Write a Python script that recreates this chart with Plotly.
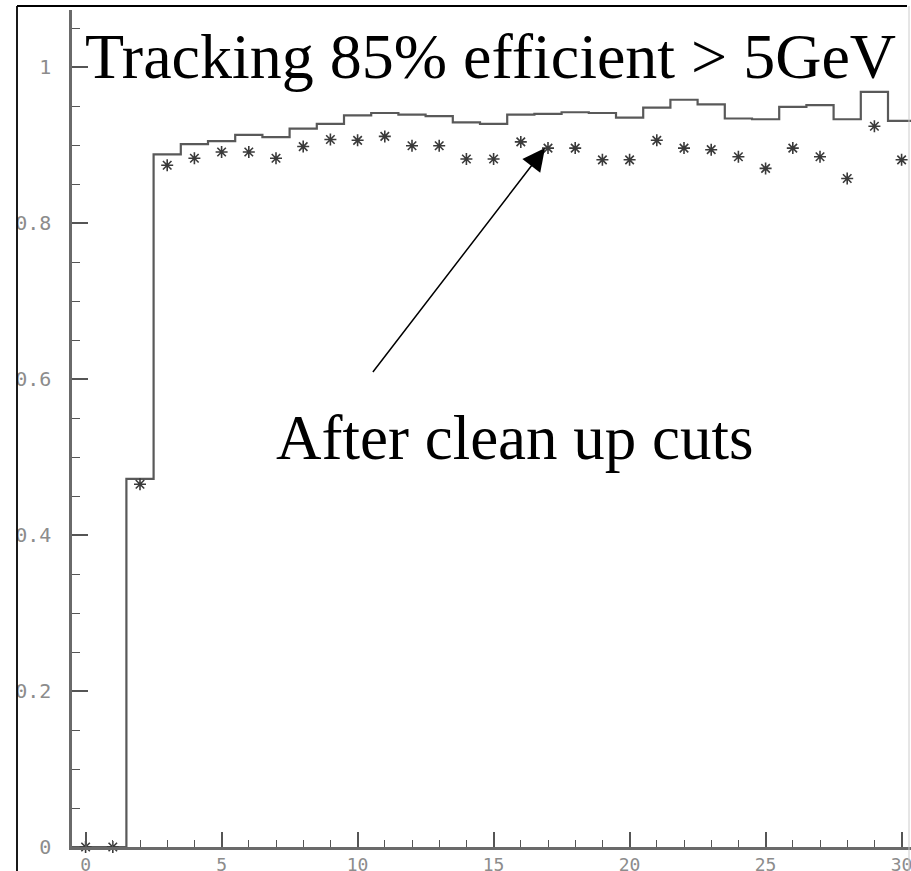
import plotly.graph_objects as go

# Bin centres (GeV) and contents
bin_centres = list(range(0, 31))
eff_all = [0.0, 0.0, 0.472, 0.888, 0.901, 0.905, 0.913, 0.910, 0.921, 0.927,
           0.938, 0.941, 0.939, 0.937, 0.929, 0.927, 0.939, 0.940, 0.942, 0.941,
           0.935, 0.948, 0.958, 0.952, 0.934, 0.933, 0.949, 0.951, 0.933, 0.968,
           0.931]
eff_cuts = [0.0, 0.0, 0.465, 0.874, 0.883, 0.891, 0.891, 0.883, 0.898, 0.907,
            0.906, 0.911, 0.899, 0.899, 0.882, 0.882, 0.904, 0.896, 0.896, 0.881,
            0.881, 0.906, 0.896, 0.894, 0.885, 0.870, 0.896, 0.885, 0.857, 0.924,
            0.881]

title_text = "Tracking 85% efficient > 5GeV"
arrow_text = "After clean up cuts"
arrow_tip = (16.89, 0.896)
arrow_tail = (10.52, 0.607)

# Histogram drawn as steps between bin edges
edges = [c - 0.5 for c in bin_centres] + [bin_centres[-1] + 0.5]
step_vals = eff_all + [eff_all[-1]]

fig = go.Figure()
fig.add_trace(go.Scatter(
    x=edges, y=step_vals, mode="lines", line_shape="hv",
    line=dict(color="#595959", width=2.2), showlegend=False, cliponaxis=False,
))
fig.add_trace(go.Scatter(
    x=bin_centres, y=eff_cuts, mode="markers",
    marker=dict(symbol="asterisk-open", size=10, color="#3a3a3a",
                line=dict(color="#3a3a3a", width=1.6)),
    showlegend=False, cliponaxis=False,
))

W, H = 911, 871
L, R, T, B = 72, 0, 10, 24
plot_w = W - L - R
plot_h = H - T - B

label_font_x = dict(family="DejaVu Sans Mono, monospace", size=18, color="#8c8c8c")
label_font_y = dict(family="DejaVu Sans Mono, monospace", size=20, color="#8c8c8c")

fig.update_xaxes(
    range=[-0.5, -0.5 + plot_w / 27.2], showgrid=False, zeroline=False,
    automargin=False, ticklabeloverflow="allow",
    showline=True, linecolor="#6a6a6a", linewidth=2.5,
    ticks="inside", ticklen=15, tickwidth=1.5, tickcolor="#555",
    tick0=0, dtick=5, ticklabelstandoff=0, tickfont=label_font_x,
    minor=dict(ticks="inside", ticklen=7, tickwidth=1.3, tickcolor="#555",
               tick0=0, dtick=1, showgrid=False),
)
fig.update_yaxes(
    range=[0, plot_h / 780.0], showgrid=False, zeroline=False,
    automargin=False, ticklabeloverflow="allow",
    showline=True, linecolor="#6a6a6a", linewidth=2.5,
    ticks="inside", ticklen=16, tickwidth=1.5, tickcolor="#555",
    tick0=0, dtick=0.2, ticklabelstandoff=14, tickfont=label_font_y,
    minor=dict(ticks="inside", ticklen=8, tickwidth=1.3, tickcolor="#555",
               tick0=0, dtick=0.05, showgrid=False),
)

serif = "Liberation Serif, Times New Roman, serif"


def px_x(p):
    return (p - L) / plot_w


def px_y(p):
    return (H - B - p) / plot_h


fig.add_annotation(
    text=title_text, xref="paper", yref="paper",
    x=px_x(83), y=px_y(56), xanchor="left", yanchor="middle",
    showarrow=False, font=dict(family=serif, size=64, color="black"),
)
fig.add_annotation(
    text=arrow_text, xref="paper", yref="paper",
    x=px_x(274), y=px_y(438), xanchor="left", yanchor="middle",
    showarrow=False, font=dict(family=serif, size=63, color="black"),
)
fig.add_annotation(
    text="", x=arrow_tip[0], y=arrow_tip[1], xref="x", yref="y",
    ax=arrow_tail[0], ay=arrow_tail[1], axref="x", ayref="y",
    showarrow=True, arrowhead=2, arrowsize=3.0, arrowwidth=1.5,
    arrowcolor="black", standoff=0, startstandoff=0,
)

# Page frame: white strip clipping the tick labels, black left/top border
frame_shapes = [
    dict(type="rect", xref="paper", yref="paper",
         x0=px_x(-2), x1=px_x(17), y0=px_y(H + 2), y1=px_y(-2),
         fillcolor="white", line=dict(width=0), layer="above"),
    dict(type="line", xref="paper", yref="paper",
         x0=px_x(17), x1=px_x(17), y0=px_y(H + 2), y1=px_y(6),
         line=dict(color="black", width=1.8), layer="above"),
    dict(type="line", xref="paper", yref="paper",
         x0=px_x(17), x1=px_x(907), y0=px_y(6), y1=px_y(6),
         line=dict(color="black", width=1.8), layer="above"),
    dict(type="line", xref="paper", yref="paper",
         x0=px_x(909), x1=px_x(909), y0=px_y(H + 2), y1=px_y(6),
         line=dict(color="#cccccc", width=1), layer="above"),
]
fig.update_layout(shapes=frame_shapes)

fig.update_layout(
    width=W, height=H, margin=dict(l=L, r=R, t=T, b=B, pad=0, autoexpand=False),
    paper_bgcolor="white", plot_bgcolor="white", showlegend=False,
)

fig.write_html("out.html")
